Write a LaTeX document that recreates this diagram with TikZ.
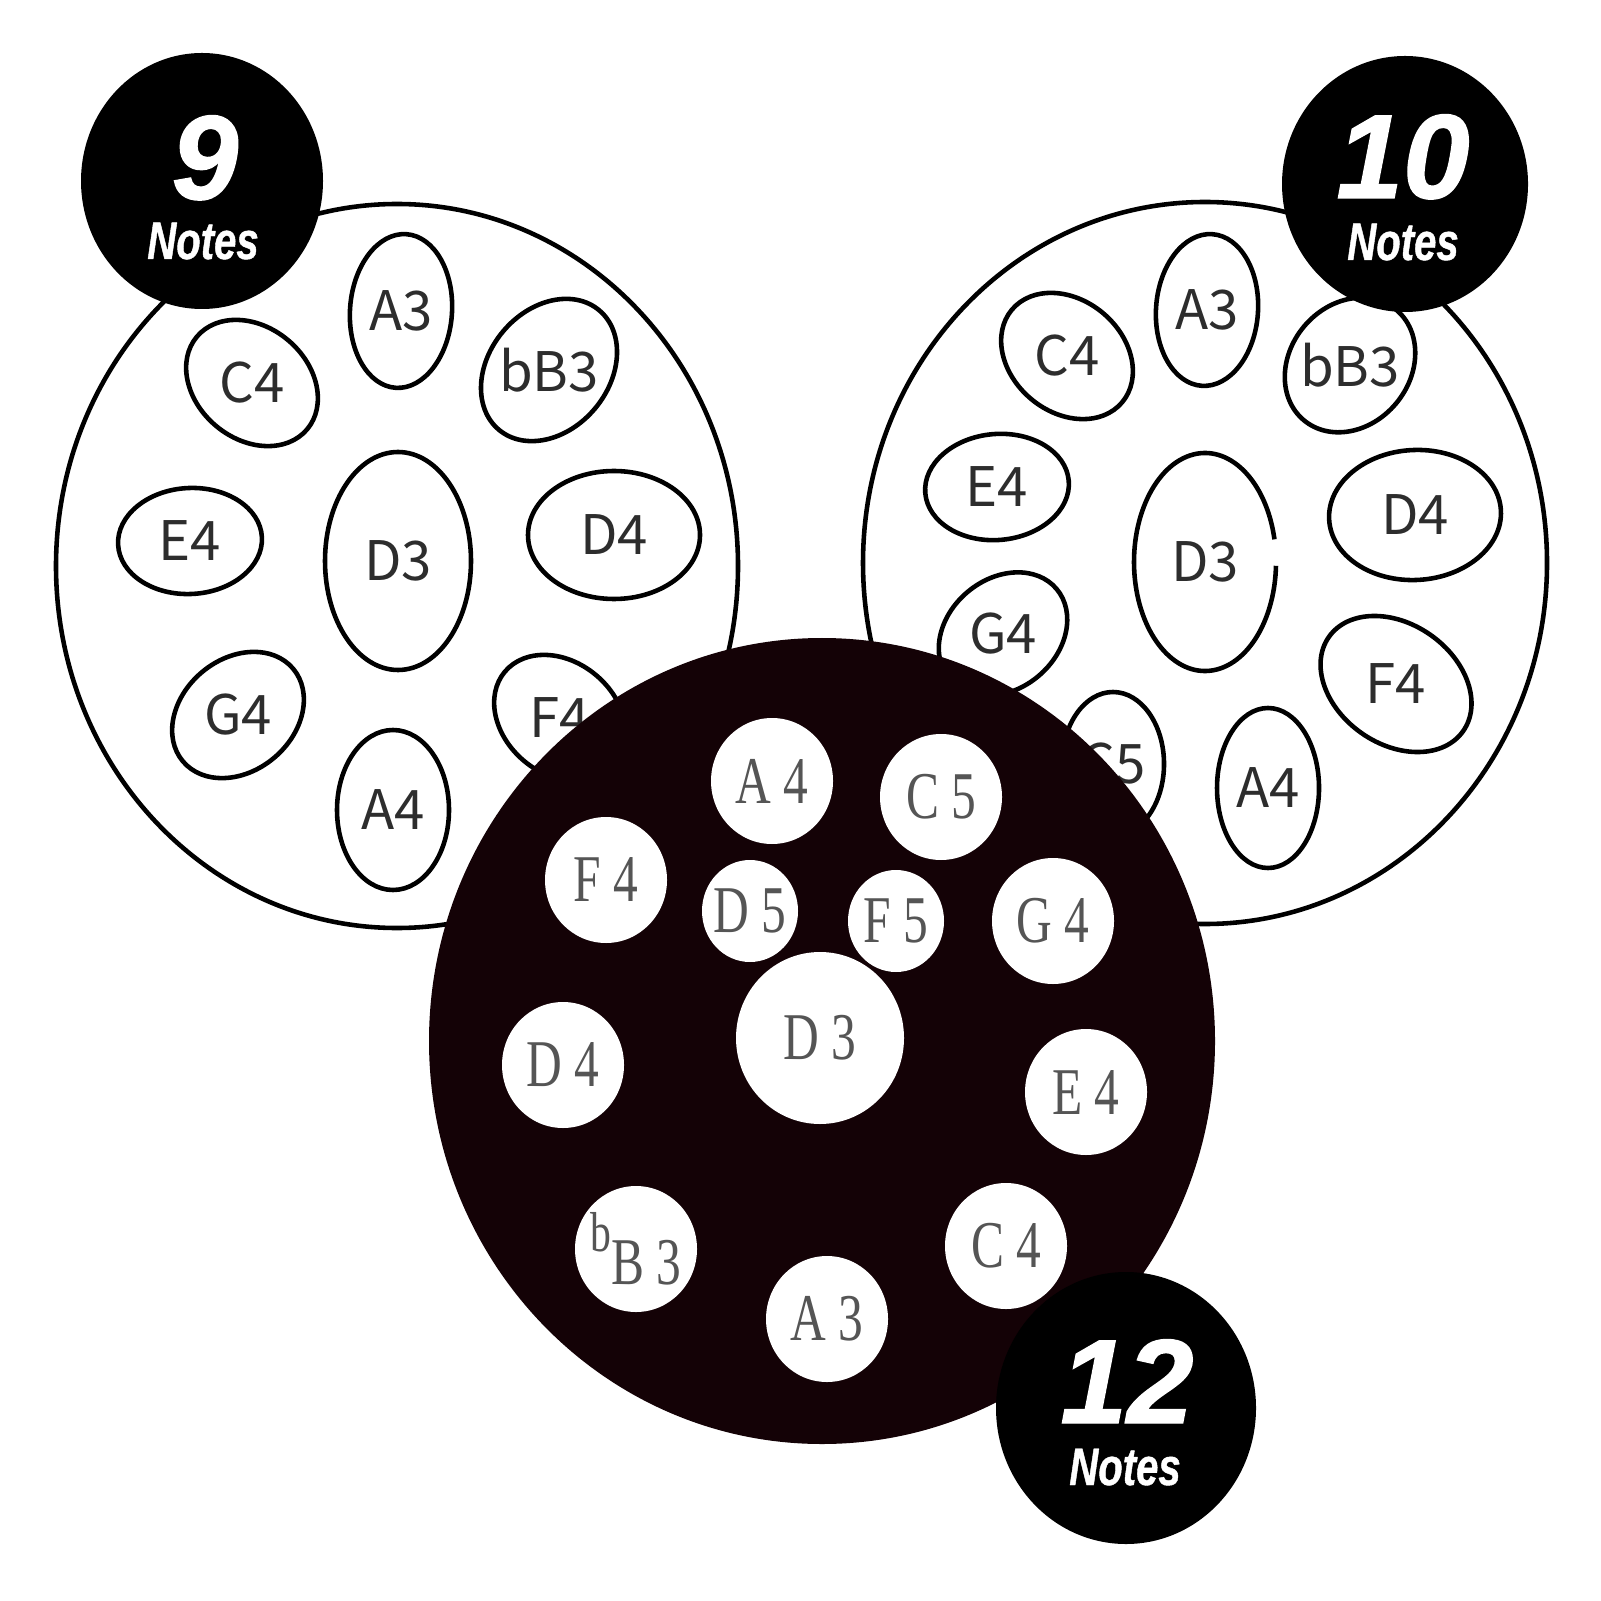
\documentclass[tikz,border=0pt]{standalone}
\usepackage{fontspec}
\usetikzlibrary{calc}
\newfontfamily\padfont{Noto Sans CJK SC}
\newfontfamily\holefont{Liberation Serif}[FakeStretch=0.74,LetterSpace=18]
\newfontfamily\badgenumfont{Liberation Sans Bold Italic}[FakeBold=1.2]
\newfontfamily\badgetxtfont{Liberation Sans Bold Italic}[FakeStretch=0.76,FakeBold=0.8]
\definecolor{plategray}{RGB}{45,45,45}
\definecolor{holegray}{RGB}{85,85,85}
\definecolor{dark}{RGB}{20,2,6}
\tikzset{
  plate/.style={draw=black, line width=1.3pt, fill=white},
  padline/.style={draw=black, line width=1.3pt},
  padtxt/.style={font=\padfont\fontsize{15.5}{15.5}\selectfont, text=plategray, inner sep=0pt},
  hole/.style={fill=white},
  holetxt/.style={font=\holefont\fontsize{19}{19}\selectfont, text=holegray, inner sep=0pt},
  badge/.style={fill=black},
  badgenum/.style={font=\badgenumfont\fontsize{34}{34}\selectfont, text=white, inner sep=0pt, anchor=base},
  badgetxt/.style={font=\badgetxtfont\fontsize{15}{15}\selectfont, text=white, inner sep=0pt, anchor=base},
}
\newcommand\mypad[7]{%
  \draw[padline, rotate around={#5:(#1,-#2)}] (#1,-#2) ellipse [x radius=#3, y radius=#4];
  \node[padtxt] (#6) at (#1,-#2) {#7};}
\newcommand\myhole[6]{%
  \fill[hole] (#1,-#2) ellipse [x radius=#3, y radius=#4];
  \node[holetxt] (#5) at (#1,-#2) {#6};}
\begin{document}
\begin{tikzpicture}[x=0.01cm, y=0.01cm]
\fill[white] (0,0) rectangle (1601,-1601);
\useasboundingbox (0,0) rectangle (1601,-1601);

% ---- left plate (9 notes)
\draw[plate] (397,-566) ellipse [x radius=341, y radius=362];
\mypad{401}{311}{51}{77}{-4}{lA3}{A3}
\mypad{252}{383}{72}{56}{-40}{lC4}{C4}
\mypad{549}{370}{78}{60}{50}{lbB3}{bB3}
\mypad{190}{541}{72}{53}{3}{lE4}{E4}
\mypad{398}{561}{73}{109}{0}{lD3}{D3}
\mypad{614}{535}{86}{64}{0}{lD4}{D4}
\mypad{238}{715}{72}{56}{40}{lG4}{G4}
\mypad{560}{718}{72}{56}{-40}{lF4}{F4}
\mypad{393}{810}{56}{80}{0}{lA4}{A4}

% ---- right plate (10 notes)
\draw[plate] (1205,-563) ellipse [x radius=342, y radius=361];
\mypad{1207}{310}{51}{76}{-4}{rA3}{A3}
\mypad{1067}{356}{72}{56}{-40}{rC4}{C4}
\mypad{1350}{365}{72}{60}{50}{rbB3}{bB3}
\mypad{997}{487}{72}{53}{5}{rE4}{E4}
\draw[padline] ($(1205,-562)+(12:71 and 109)$) arc [start angle=12, end angle=358, x radius=71, y radius=109];
\node[padtxt] (rD3) at (1205,-562) {D3};
\mypad{1415}{515}{86}{65}{3}{rD4}{D4}
\mypad{1003}{634}{70}{55}{40}{rG4}{G4}
\mypad{1113}{764}{51}{72}{0}{rC5}{C5}
\mypad{1396}{684}{82}{60}{-35}{rF4}{F4}
\mypad{1268}{788}{51}{80}{0}{rA4}{A4}

% ---- badges 9 and 10
\fill[badge] (202,-181) ellipse [x radius=121, y radius=128];
\node[badgenum] (n9) at (205,-199) {9};
\node[badgetxt] (t9) at (203,-259) {Notes};
\fill[badge] (1405,-184) ellipse [x radius=123, y radius=128];
\node[badgenum] (n10) at (1403,-198) {10};
\node[badgetxt] (t10) at (1403,-260) {Notes};

% ---- black plate (12 notes)
\fill[dark] (822,-1041) ellipse [x radius=393, y radius=403];
\myhole{772}{781}{61}{63}{hA4}{A4}
\myhole{941}{797}{61}{63}{hC5}{C5}
\myhole{606}{880}{61}{63}{hF4}{F4}
\myhole{750}{911}{48}{51}{hD5}{D5}
\myhole{896}{921}{48}{51}{hF5}{F5}
\myhole{1053}{921}{61}{63}{hG4}{G4}
\myhole{820}{1038}{84}{86}{hD3}{D3}
\myhole{563}{1065}{61}{63}{hD4}{D4}
\myhole{1086}{1092}{61}{63}{hE4}{E4}
\myhole{636}{1249}{61}{63}{hbB3}{\raisebox{0.5em}{\fontsize{16}{16}\selectfont b}B3}
\myhole{1006}{1246}{61}{63}{hC4}{C4}
\myhole{827}{1319}{61}{63}{hA3}{A3}

% ---- badge 12
\fill[badge] (1126,-1408) ellipse [x radius=130, y radius=136];
\node[badgenum] (n12) at (1127,-1423) {12};
\node[badgetxt] (t12) at (1125,-1485) {Notes};
\end{tikzpicture}
\end{document}
